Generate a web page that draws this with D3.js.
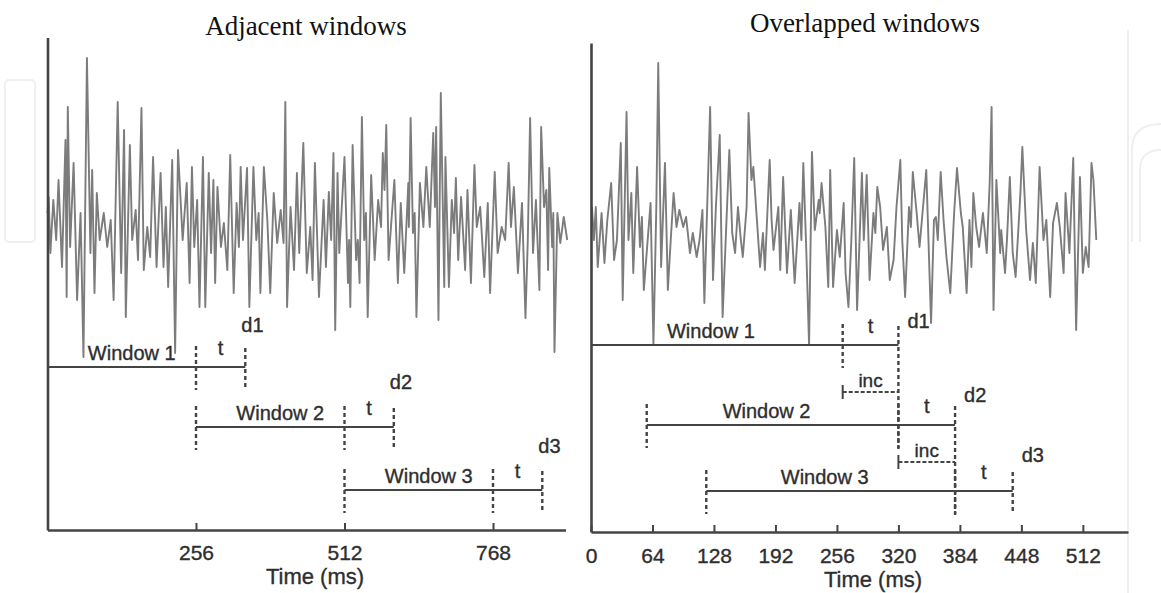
<!DOCTYPE html>
<html><head><meta charset="utf-8">
<script src="https://cdn.jsdelivr.net/npm/d3@7"></script>
<style>html,body{margin:0;padding:0;background:#fff;}svg{display:block;}</style>
</head><body>
<svg id="chart" width="1161" height="593"></svg>
<script>
// ---------- DATA ----------
const titles = ["Adjacent windows", "Overlapped windows"];
const axisTitle = "Time (ms)";
const leftTicks = [256, 512, 768];
const rightTicks = [0, 64, 128, 192, 256, 320, 384, 448, 512];

// signal (ms, amplitude): adjacent-window panel
const leftTime = [0,2,5,10,15,19,25,31,33,35,39,45,51,57,62,68,74,77,81,85,90,97,103,109,114,121,127,132,135,142,146,152,156,162,166,172,177,182,188,195,200,204,208,215,220,225,233,240,245,249,253,258,262,268,272,278,282,286,289,293,299,304,310,315,321,326,330,333,337,344,348,355,360,364,367,373,379,384,390,396,402,407,410,413,419,425,430,434,441,447,453,457,461,468,476,480,485,489,493,496,500,503,512,518,520,522,526,532,535,538,542,546,549,552,558,564,570,575,578,581,584,588,598,604,609,615,622,623,626,630,633,636,642,648,653,659,665,668,670,674,678,684,686,692,697,701,704,708,713,720,724,730,736,740,746,753,759,763,771,776,783,789,795,799,804,811,818,824,828,832,837,842,848,851,856,860,863,865,870,872,874,879,884,890,896];
const leftAmp = [17,33,-23,30,-10,50,-37,90,-67,123,-17,67,-70,17,-127,172,-23,60,-63,37,-10,17,-17,10,-70,128,-43,100,-87,85,-10,20,-30,122,-40,3,-27,73,-37,57,-37,23,-57,70,-123,80,-10,47,-53,63,-17,30,-77,73,-77,57,-23,50,-53,43,-17,7,-40,75,-63,27,-17,63,-10,62,-77,63,-10,17,-63,63,10,-63,37,-13,20,-13,128,-77,23,-40,57,-23,87,-43,3,-50,67,-67,30,-37,38,-10,77,-100,57,-23,73,-53,-10,-77,85,-30,-10,-53,113,-10,17,-87,55,-30,30,3,77,40,105,-30,50,-53,27,-43,47,3,112,-3,17,-87,47,3,63,3,97,23,103,-90,137,-57,73,-57,30,-3,52,-30,33,-40,40,-53,65,3,23,-47,27,-63,58,-23,3,-10,67,3,43,-43,27,-88,-10,112,-23,30,-60,103,23,40,-40,62,-17,17,-122,17,-13,13,-10];

// signal (ms, amplitude): overlapped-window panel
const rightTime = [1,3,5,7,11,14,17,21,24,27,31,33,37,39,42,44,48,51,53,55,59,62,65,68,70,73,77,80,83,86,89,92,96,99,103,106,110,113,116,118,124,127,130,134,137,144,147,150,153,156,158,162,164,167,169,176,179,181,186,188,190,195,197,200,204,208,212,217,219,221,224,227,230,233,237,238,240,244,247,249,252,256,259,263,265,268,271,274,277,282,284,287,290,294,296,298,301,304,308,311,315,318,322,324,327,331,333,335,339,342,349,354,357,359,361,364,367,370,374,378,381,385,387,391,394,396,398,401,404,408,412,415,417,419,422,426,427,431,433,436,439,442,445,447,449,453,457,460,463,467,471,474,478,481,485,488,492,494,498,502,505,509,512,515,518,521,523,526];
const rightAmp = [28,-5,28,-32,22,-28,15,52,-25,-5,92,-65,123,-5,42,-38,68,-12,18,-55,-5,32,-110,28,172,-32,72,-55,-5,42,8,25,8,18,-18,2,-22,-5,25,-68,128,-45,28,100,-82,85,2,-18,28,-5,-22,28,122,55,68,-32,2,-35,75,15,-15,28,-35,58,-38,25,-48,32,-5,72,-12,-110,83,5,35,22,52,8,-52,65,-52,5,-22,32,-38,-72,-5,77,-75,62,-5,60,-45,22,2,48,28,-15,8,-45,-25,28,75,-5,-62,28,8,63,22,-12,65,-88,15,18,-5,63,15,-22,-58,22,67,22,8,-58,15,-32,42,8,-12,22,-18,52,128,-75,55,-18,5,-38,-5,58,-18,-42,8,42,88,5,-45,-8,-48,68,-5,15,-62,12,32,8,-38,42,-18,77,-95,58,-38,-12,-32,72,55,-5];

// analysis windows
const windowLabels = ["Window 1", "Window 2", "Window 3"];
const decisionLabels = ["d1", "d2", "d3"];
const leftWinStart = [0, 256, 512];
const leftWinT = [256, 512, 768];
const leftDecision = [341, 597, 853];
const rightWinStart = [0, 58, 120];
const rightWinT = [262, 320, 379];
const rightDecision = [320, 379, 439];

// ---------- DRAW ----------
const svg = d3.select("#chart");
const SANS = "'Liberation Sans', Arial, sans-serif";
const SERIF = "'Liberation Serif', 'Times New Roman', serif";
const AX = "#444", SIG = "#7c7c7c", TXT = "#2e2e2e";

// faint watermark decoration
const wm = svg.append("g").attr("fill","none").attr("stroke","#efefef").attr("stroke-width",2);
wm.append("rect").attr("x",5).attr("y",80).attr("width",30).attr("height",162).attr("rx",4);
wm.append("line").attr("x1",1128).attr("x2",1128).attr("y1",30).attr("y2",593);
wm.append("path").attr("d","M1132,242 V150 Q1132,124 1161,124");
wm.append("path").attr("d","M1140,242 V170 Q1140,150 1161,150");

function panel(cfg) {
  const g = svg.append("g");
  const x = d3.scaleLinear().domain(cfg.xDomain).range(cfg.xRange);
  const y = d3.scaleLinear().domain(cfg.yDomain).range(cfg.yRange);

  // signal
  const pts = cfg.time.map((t, i) => [t, cfg.amp[i]]);
  g.append("path").datum(pts)
    .attr("fill", "none").attr("stroke", SIG).attr("stroke-width", 1.9)
    .attr("stroke-linejoin", "round")
    .attr("d", d3.line().x(d => x(d[0])).y(d => y(d[1])));

  // axes
  const xa = g.append("g").attr("transform", `translate(0,${cfg.yRange[0]})`)
    .call(d3.axisBottom(x).tickValues(cfg.ticks).tickSizeInner(-7).tickSizeOuter(0).tickPadding(cfg.tickPad));
  const ya = g.append("g").attr("transform", `translate(${cfg.xRange[0]},0)`)
    .call(d3.axisLeft(y).tickValues([]).tickSizeOuter(0));
  [xa, ya].forEach(a => {
    a.select(".domain").attr("stroke", AX).attr("stroke-width", 2.6);
    a.selectAll(".tick line").attr("stroke", AX).attr("stroke-width", 2);
    a.selectAll(".tick text").attr("font-family", SANS).attr("font-size", 21).attr("fill", TXT)
      .attr("stroke", TXT).attr("stroke-width", 0.35);
  });

  // titles
  g.append("text").attr("x", cfg.titleX).attr("y", cfg.titleY).attr("text-anchor","middle")
    .attr("font-family", SERIF).attr("font-size", 27).attr("fill", "#111").text(cfg.title);
  g.append("text").attr("x", cfg.axTitleX).attr("y", cfg.axTitleY).attr("text-anchor","middle")
    .attr("font-family", SANS).attr("font-size", 22).attr("fill", TXT)
    .attr("stroke", TXT).attr("stroke-width", 0.35).text(axisTitle);

  const axisX = cfg.xRange[0];
  const dash = (xx, y1, y2) => g.append("line").attr("x1", xx).attr("x2", xx).attr("y1", y1).attr("y2", y2)
    .attr("stroke", AX).attr("stroke-width", 2.4).attr("stroke-dasharray", "4,3");
  const label = (txt, xx, yy, anchor, size) => g.append("text").attr("x", xx).attr("y", yy)
    .attr("text-anchor", anchor).attr("font-family", SANS).attr("font-size", size || 20).attr("fill", TXT)
    .attr("stroke", TXT).attr("stroke-width", 0.35).text(txt);

  cfg.start.forEach((s, i) => {
    const ry = cfg.rowY[i];
    const xs = Math.max(x(s), axisX), xt = x(cfg.tStart[i]), xd = x(cfg.decision[i]);
    g.append("line").attr("x1", xs).attr("x2", xd).attr("y1", ry).attr("y2", ry)
      .attr("stroke", AX).attr("stroke-width", 2);
    if (x(s) > axisX + 2) dash(xs, ry - 21, ry + 23);
    dash(xt, ry - 21, ry + 23);
    const extend = cfg.linkDecision && i < cfg.start.length - 1;
    dash(xd, ry - 19, extend ? cfg.rowY[i + 1] + 25 : ry + 23);
    label(windowLabels[i], (xs + xt) / 2 + cfg.winLabelDx, ry - 7, "middle");
    label("t", (xt + xd) / 2, ry - 12, "middle");
    label(decisionLabels[i], xd + cfg.dDx, ry + cfg.dDy[i], "start");
    if (cfg.incY && i < cfg.start.length - 1) {
      const iy = cfg.incY[i];
      g.append("line").attr("x1", xt).attr("x2", xd).attr("y1", iy).attr("y2", iy)
        .attr("stroke", AX).attr("stroke-width", 2).attr("stroke-dasharray", "4,2");
      g.append("line").attr("x1", xt).attr("x2", xt).attr("y1", iy - 7).attr("y2", iy + 7)
        .attr("stroke", AX).attr("stroke-width", 2);
      label("inc", (xt + xd) / 2, iy - 5, "middle", 19);
    }
  });
}

panel({
  title: titles[0], titleX: 306, titleY: 35, axTitleX: 315, axTitleY: 584,
  time: leftTime, amp: leftAmp, ticks: leftTicks, tickPad: 15,
  xDomain: [0, 893], xRange: [47.5, 565.5],
  yDomain: [-300, 192.5], yRange: [530, 37.5],
  start: leftWinStart, tStart: leftWinT, decision: leftDecision,
  rowY: [367, 427, 490], winLabelDx: 10, dDx: -4, dDy: [-35, -38, -37],
  linkDecision: false
});

panel({
  title: titles[1], titleX: 865, titleY: 32, axTitleX: 873, axTitleY: 587,
  time: rightTime, amp: rightAmp, ticks: rightTicks, tickPad: 16,
  xDomain: [0, 559], xRange: [591, 1128],
  yDomain: [-297, 192], yRange: [532, 43],
  start: rightWinStart, tStart: rightWinT, decision: rightDecision,
  rowY: [345, 425, 491], incY: [392, 462], winLabelDx: -6, dDx: 9, dDy: [-17, -23, -29],
  linkDecision: true
});
</script>
</body></html>
